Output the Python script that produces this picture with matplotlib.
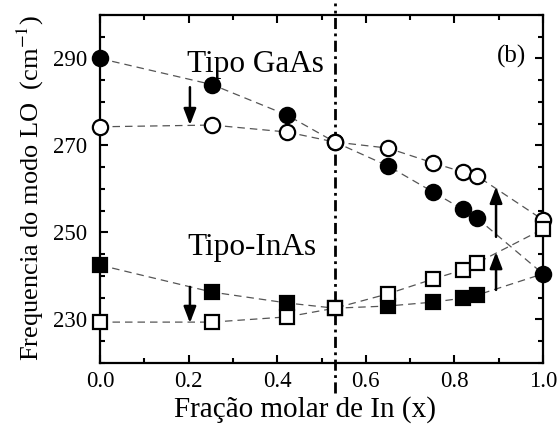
import numpy as np
import matplotlib
matplotlib.use('Agg')
from matplotlib import pyplot as plt
from matplotlib.ticker import MultipleLocator

# Fração molar de In e frequências dos modos LO (cm^-1)
x_in = [0.0, 0.253, 0.422, 0.530, 0.650, 0.752, 0.819, 0.851, 1.0]
gaas_cheio = [290.0, 284.0, 277.0, 270.8, 265.3, 259.3, 255.3, 253.3, 240.5]
gaas_aberto = [274.3, 274.7, 273.1, 270.8, 269.4, 266.0, 263.9, 263.0, 252.9]
inas_cheio = [242.5, 236.3, 233.8, 232.6, 233.1, 234.0, 234.9, 235.6, 240.5]
inas_aberto = [229.4, 229.4, 230.6, 232.6, 235.9, 239.3, 241.4, 243.0, 250.8]

# Composição marcada pela linha vertical
x_corte = 0.530

# Setas (x, inicio, fim)
setas = [
    (0.203, 283.4, 274.7),
    (0.203, 237.5, 229.2),
    (0.894, 249.0, 260.5),
    (0.894, 236.8, 245.5),
]

plt.rcParams['font.family'] = ['Liberation Serif', 'DejaVu Serif']
plt.rcParams['mathtext.fontset'] = 'stix'

fig = plt.figure(figsize=(5.6, 4.4), dpi=100)
ax = fig.add_axes([100 / 560, 1 - 363 / 440, 443 / 560, 348 / 440])

linha = dict(color='#555555', lw=0.9, dashes=(6, 4), zorder=1)
ax.plot(x_in, gaas_cheio, **linha)
ax.plot(x_in, gaas_aberto, **linha)
ax.plot(x_in, inas_cheio, **linha)
ax.plot(x_in, inas_aberto, **linha)

ax.axvline(x_corte, ymin=-0.085, ymax=1.035, color='k', lw=2.0,
           linestyle=(0, (4, 1.6, 1, 1.6)), clip_on=False, zorder=2)

# marcadores nas bordas ficam inteiros (sem recorte)
circ = dict(marker='o', ms=11, mew=1.6, ls='none', mec='k', zorder=4, clip_on=False)
quad = dict(marker='s', ms=10, mew=1.6, ls='none', mec='k', zorder=4, clip_on=False)
ax.plot(x_in, gaas_cheio, mfc='k', **circ)
ax.plot(x_in, gaas_aberto, mfc='white', **circ)
ax.plot(x_in[:-1], inas_cheio[:-1], mfc='k', **quad)
ax.plot(x_in, inas_aberto, mfc='white', **quad)

for xs, y0, y1 in setas:
    ax.annotate('', xy=(xs, y1), xytext=(xs, y0),
                arrowprops=dict(arrowstyle='-|>,head_length=0.65,head_width=0.25',
                                mutation_scale=15, lw=1.8, color='k',
                                shrinkA=0, shrinkB=0), zorder=5)

ax.text(0.197, 286.9, 'Tipo GaAs', fontsize=22.5, va='baseline')
ax.text(0.197, 244.8, 'Tipo-InAs', fontsize=22.5, va='baseline')
ax.text(0.895, 289.0, '(b)', fontsize=18, va='baseline')

ax.set_xlim(0, 1)
ax.set_ylim(220, 300)
ax.set_xticks(np.arange(0, 1.01, 0.2))
ax.set_xticklabels(['0.0', '0.2', '0.4', '0.6', '0.8', '1.0'])
ax.set_yticks([230, 250, 270, 290])
ax.xaxis.set_minor_locator(MultipleLocator(0.1))
ax.yaxis.set_minor_locator(MultipleLocator(5))
ax.tick_params(which='both', direction='in', top=True, right=True, width=1.5)
ax.tick_params(which='major', length=6)
ax.tick_params(which='minor', length=3.5)
ax.tick_params(axis='x', labelsize=16.5, pad=6)
ax.tick_params(axis='y', labelsize=16.5, pad=9)
for s in ax.spines.values():
    s.set_linewidth(1.6)

fig.text(305 / 560, 1 - 410 / 440, 'Fração molar de In (x)', fontsize=21,
         ha='center', va='center')
fig.text(30 / 560, 1 - 188 / 440, 'Frequencia do modo LO  (cm$^{-1}$)',
         fontsize=19, rotation=90, ha='center', va='center')

fig.savefig('out.png', dpi=100)
